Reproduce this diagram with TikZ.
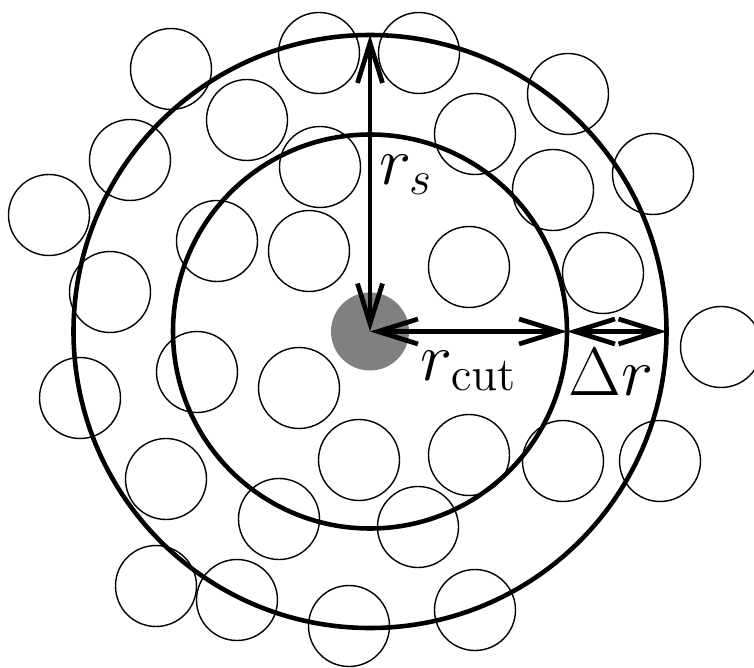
\documentclass[tikz,border=0pt]{standalone}
\usetikzlibrary{arrows.meta}

\begin{document}
\begin{tikzpicture}[
    atom/.style={line width=0.8pt},
    shell/.style={line width=2.6pt},
    span/.style={line width=2.7pt,{Straight Barb[length=8mm,width=5mm]}-{Straight Barb[length=8mm,width=5mm]}},
    lbl/.style={inner sep=0pt,font=\LARGE,scale=2.25}
  ]
  \def\rcut{3.94}
  \def\rs{5.93}
  \def\ra{0.81}
  \useasboundingbox (-7.40,-6.71) rectangle (7.68,6.63);
  % neighbouring particles
  \foreach \x/\y in {-3.98/5.25, -1.02/5.57, -2.46/4.23, -4.80/3.43, -1.00/3.29,
      -6.42/2.33, -3.06/1.81, -1.22/1.61, -5.20/0.79, -3.46/-0.81,
      0.98/5.57, 3.96/4.75, 2.10/3.95, 5.66/3.15, 3.66/2.83,
      1.98/1.29, 4.66/1.17, 7.02/-0.31, -5.80/-1.33, -1.42/-1.13,
      -0.22/-2.57, -4.08/-2.95, -1.82/-3.75, -4.28/-5.09, -2.66/-5.37,
      -0.42/-5.89, 1.98/-2.47, 3.86/-2.59, 5.80/-2.59, 0.96/-3.91, 2.10/-5.57}
    \draw[atom] (\x,\y) circle (\ra);
  \draw[shell] (0,0) circle (\rcut);
  \draw[shell] (0,0) circle (\rs);
  \fill[black!50] (0,0) circle (0.78);
  \coordinate (c) at (0,0);
  \coordinate (top) at (0,\rs);
  \coordinate (cut) at (\rcut,0);
  \coordinate (skin) at (\rs,0);
  \draw[span] (c) -- (top);
  \draw[span] (c) -- (cut);
  \draw[span] (cut) -- (skin);
  \node[lbl] (rslabel) at (0.72,3.13) {$r_s$};
  \node[lbl] (rcutlabel) at (1.98,-0.79) {$r_{\mathrm{cut}}$};
  \node[lbl] (drlabel) at (4.82,-0.81) {$\Delta r$};
\end{tikzpicture}
\end{document}
